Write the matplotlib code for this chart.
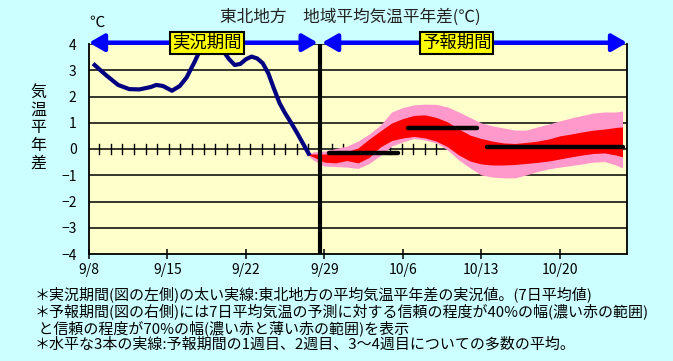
import numpy as np
import matplotlib
matplotlib.use("Agg")
from matplotlib import pyplot as plt
from matplotlib.patches import ArrowStyle

plt.rcParams['font.family'] = ['Noto Sans CJK JP', 'DejaVu Sans']

# days counted from 9/8
tick_days = [0, 7, 14, 21, 28, 35, 42]
tick_labels = ['9/8', '9/15', '9/22', '9/29', '10/6', '10/13', '10/20']

# observed 7-day mean anomaly
obs_day = [0.5, 1.5, 2.6, 3.6, 4.5, 5.5, 6.0, 6.6, 7.4, 8.1, 8.7, 9.4, 10.0, 10.7,
           11.3, 12.0, 12.5, 13.0, 13.5, 14.0, 14.5, 15.0, 15.5, 16.0, 16.5, 17.0,
           17.5, 18.0, 18.5, 19.0, 19.6]
obs_val = [3.20, 2.82, 2.44, 2.28, 2.27, 2.36, 2.44, 2.40, 2.22, 2.40, 2.72, 3.30,
           3.85, 4.40, 4.40, 3.72, 3.42, 3.20, 3.24, 3.42, 3.52, 3.45, 3.27, 2.88,
           2.30, 1.75, 1.36, 1.02, 0.66, 0.28, -0.18]

# forecast ranges
fc_day = [19.6, 20, 21, 22, 23, 24, 25, 26, 27, 28, 29, 30, 31, 32, 33, 34, 35,
          36, 37, 38, 39, 40, 41, 42, 43, 44, 45, 46, 47, 47.6]
p70_hi = [-0.19, -0.11, -0.08, 0.02, 0.11, 0.30, 0.57, 0.91, 1.41, 1.58, 1.68,
          1.71, 1.70, 1.60, 1.41, 1.20, 0.99, 0.88, 0.80, 0.72, 0.72, 0.84, 0.95,
          1.07, 1.18, 1.28, 1.37, 1.41, 1.41, 1.45]
p40_hi = [-0.19, -0.19, -0.19, -0.15, -0.10, 0.04, 0.38, 0.69, 0.99, 1.16, 1.28,
          1.30, 1.20, 1.03, 0.76, 0.53, 0.40, 0.30, 0.23, 0.21, 0.25, 0.30, 0.38,
          0.50, 0.57, 0.65, 0.72, 0.76, 0.82, 0.84]
p40_lo = [-0.23, -0.30, -0.50, -0.53, -0.44, -0.53, -0.32, 0.08, 0.32, 0.42, 0.48,
          0.42, 0.30, 0.08, -0.23, -0.46, -0.57, -0.61, -0.61, -0.59, -0.55, -0.51,
          -0.46, -0.38, -0.30, -0.23, -0.17, -0.15, -0.23, -0.30]
p70_lo = [-0.27, -0.42, -0.65, -0.67, -0.69, -0.74, -0.55, -0.25, 0.11, 0.27, 0.40,
          0.34, 0.23, -0.04, -0.42, -0.72, -0.99, -1.07, -1.10, -1.10, -0.99, -0.86,
          -0.76, -0.69, -0.63, -0.57, -0.50, -0.48, -0.61, -0.72]

# ensemble means: week 1, week 2, weeks 3-4
mean_start = [21.4, 28.5, 35.5]
mean_end = [27.6, 34.6, 47.6]
mean_val = [-0.17, 0.81, 0.06]

split_day = 20.6

fig = plt.figure(figsize=(6.73, 3.61), dpi=100, facecolor='#CCFFFF')
ax = fig.add_axes([89 / 673, 107 / 361, 538 / 673, 210 / 361])
ax.set_facecolor('#FFFFCC')
ax.set_xlim(0, 48)
ax.set_ylim(-4, 4)

for v in range(-3, 5):
    ax.axhline(v, color='black', lw=1.1, zorder=1)

# small crossing ticks along the zero line
for d in np.linspace(0.89, 31.0, 30):
    ax.plot([d, d], [-0.19, 0.19], color='black', lw=1.0, zorder=1)

ax.fill_between(fc_day, p70_lo, p70_hi, color='#FF99CC', lw=0, zorder=2)
ax.fill_between(fc_day, p40_lo, p40_hi, color='#FF0000', lw=0, zorder=3)
ax.plot(obs_day, obs_val, color='#000080', lw=3, zorder=4)
ax.hlines(mean_val, mean_start, mean_end, color='black', lw=3.2,
          capstyle='round', zorder=5)
ax.axvline(split_day, color='black', lw=3, zorder=6)

ax.spines['top'].set_visible(False)
for s in ['left', 'bottom', 'right']:
    ax.spines[s].set_linewidth(1.3)

ax.set_yticks(range(-4, 5))
ax.tick_params(axis='y', length=0, pad=9, labelsize=10)
ax.set_xticks(tick_days)
ax.set_xticklabels(tick_labels)
ax.tick_params(axis='x', direction='inout', length=7, width=1.1, pad=3,
               labelsize=10)

# period arrows
st = ArrowStyle('<|-|>', head_length=0.45, head_width=0.26)
ay = 4.05
ax.annotate('', xy=(0, ay), xytext=(split_day - 0.2, ay), annotation_clip=False,
            arrowprops=dict(arrowstyle=st, color='#0000FF', lw=3.2,
                            mutation_scale=20, shrinkA=0, shrinkB=0), zorder=7)
ax.annotate('', xy=(split_day + 0.2, ay), xytext=(48, ay), annotation_clip=False,
            arrowprops=dict(arrowstyle=st, color='#0000FF', lw=3.2,
                            mutation_scale=20, shrinkA=0, shrinkB=0), zorder=7)
box = dict(boxstyle='square,pad=0.12', fc='#FFFF00', ec='black', lw=1.5)
ax.text(10.5, ay, '実況期間', ha='center', va='center', fontsize=12.5,
        bbox=box, zorder=8, clip_on=False)
ax.text(32.8, ay, '予報期間', ha='center', va='center', fontsize=12.5,
        bbox=box, zorder=8, clip_on=False)

fig.text(350 / 673, 1 - 17 / 361, '東北地方　地域平均気温平年差(℃)', ha='center',
         va='center', fontsize=12, color='#222222')
fig.text(97 / 673, 1 - 22 / 361, '℃', ha='center', va='center', fontsize=11)
fig.text(38 / 673, 1 - 128 / 361, '\n'.join('気温平年差'), ha='center',
         va='center', fontsize=11.5, linespacing=1.05)

notes = ['＊実況期間(図の左側)の太い実線:東北地方の平均気温平年差の実況値。(7日平均値)',
         '＊予報期間(図の右側)には7日平均気温の予測に対する信頼の程度が40%の幅(濃い赤の範囲)',
         ' と信頼の程度が70%の幅(濃い赤と薄い赤の範囲)を表示',
         '＊水平な3本の実線:予報期間の1週目、2週目、3～4週目についての多数の平均。']
for i, t in enumerate(notes):
    fig.text(35 / 673, 1 - (294.7 + 16.7 * i) / 361, t, ha='left', va='center',
             fontsize=10.8)

fig.savefig('out.png', dpi=100, facecolor=fig.get_facecolor())
